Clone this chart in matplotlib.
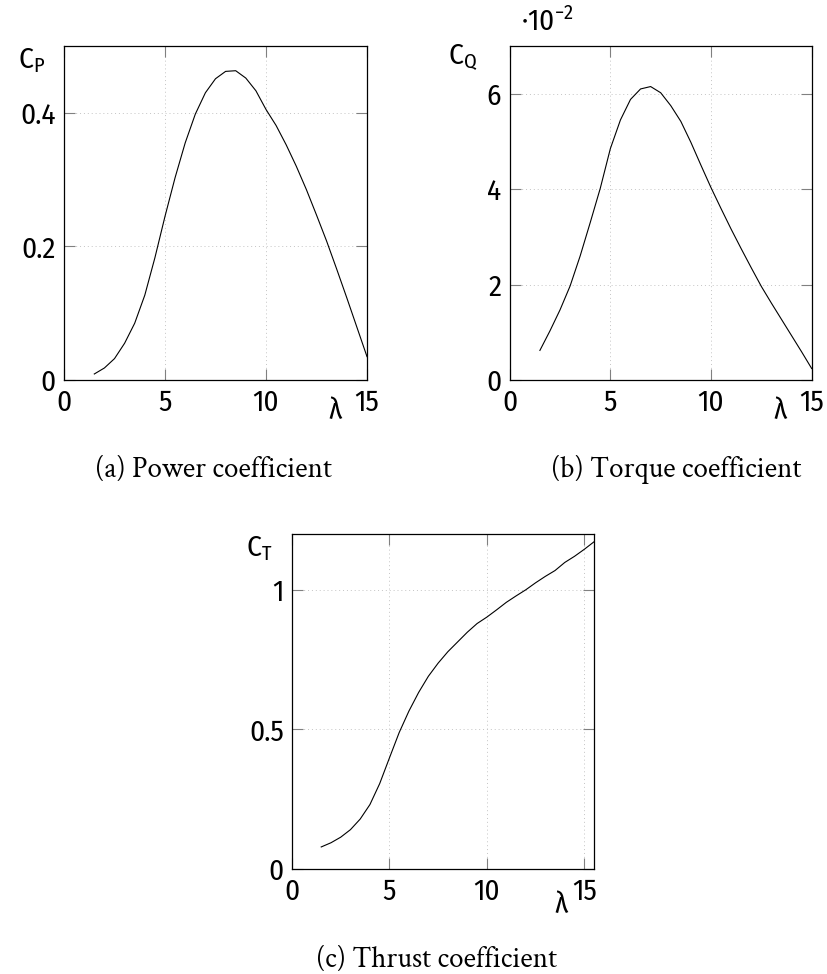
import matplotlib
matplotlib.use("Agg")
import matplotlib.pyplot as plt
from matplotlib import font_manager

# ---------------- data ----------------
lam_pq = [1.5, 2.0, 2.5, 3.0, 3.5, 4.0, 4.5, 5.0, 5.5, 6.0, 6.5, 7.0, 7.5, 8.0,
          8.5, 9.0, 9.5, 10.0, 10.5, 11.0, 11.5, 12.0, 12.5, 13.0, 13.5, 14.0,
          14.5, 15.0]
cp = [0.009, 0.018, 0.032, 0.055, 0.085, 0.127, 0.183, 0.245, 0.303, 0.355,
      0.398, 0.430, 0.451, 0.462, 0.463, 0.452, 0.433, 0.405, 0.381, 0.352,
      0.320, 0.285, 0.247, 0.208, 0.166, 0.123, 0.079, 0.035]
cq = [0.62, 1.03, 1.47, 1.97, 2.60, 3.30, 4.02, 4.85, 5.45, 5.88, 6.10, 6.15,
      6.02, 5.75, 5.42, 4.98, 4.50, 4.03, 3.59, 3.16, 2.75, 2.35, 1.96, 1.61,
      1.27, 0.93, 0.59, 0.24]
lam_t = [1.5, 2.0, 2.5, 3.0, 3.5, 4.0, 4.5, 5.0, 5.5, 6.0, 6.5, 7.0, 7.5, 8.0,
         8.5, 9.0, 9.5, 10.0, 10.5, 11.0, 11.5, 12.0, 12.5, 13.0, 13.5, 14.0,
         14.5, 15.0, 15.5]
ct = [0.078, 0.093, 0.113, 0.140, 0.178, 0.230, 0.305, 0.397, 0.488, 0.565,
      0.632, 0.690, 0.737, 0.778, 0.813, 0.848, 0.879, 0.902, 0.928, 0.955,
      0.978, 1.000, 1.025, 1.048, 1.069, 1.098, 1.120, 1.145, 1.172]

xticks_pq = [0, 5, 10, 15]
yticks_p = [0, 0.2, 0.4]
ytick_labels_p = ["0", "0.2", "0.4"]
yticks_q = [0, 2, 4, 6]
yticks_t = [0, 0.5, 1]
ytick_labels_t = ["0", "0.5", "1"]

captions = ["(a) Power coefficient", "(b) Torque coefficient",
            "(c) Thrust coefficient"]

# ---------------- style ----------------
names = {f.name for f in font_manager.fontManager.ttflist}


def first(cands, default):
    for c in cands:
        if c in names:
            return c
    return default


sans = first(["Fira Sans Condensed", "Roboto Condensed", "Open Sans Condensed",
              "PT Sans Narrow", "Liberation Sans Narrow"], "Liberation Sans")
serif = first(["Crimson Text", "Crimson Pro", "Gentium Book Plus",
               "Liberation Serif"], "DejaVu Serif")

plt.rcParams["font.family"] = [sans, "DejaVu Sans"]
plt.rcParams["font.weight"] = "normal"
plt.rcParams["mathtext.fontset"] = "custom"
plt.rcParams["mathtext.rm"] = sans
plt.rcParams["mathtext.it"] = sans
plt.rcParams["mathtext.sf"] = sans
plt.rcParams["axes.unicode_minus"] = True

TICK_FS = 21
CAP_FS = 21
W, H = 828, 974
fig = plt.figure(figsize=(W / 100, H / 100), dpi=100)


def make_ax(left, top, right, bottom):
    return fig.add_axes([left / W, 1 - bottom / H, (right - left) / W,
                         (bottom - top) / H])


def style(ax):
    for s in ax.spines.values():
        s.set_color("black")
        s.set_linewidth(0.9)
    ax.tick_params(direction="in", length=8, width=0.8, color="#808080",
                   top=True, right=True, labelsize=TICK_FS, pad=6)
    ax.grid(True, color="#c4c4c4", linestyle=(0, (1, 3)), linewidth=0.7)
    ax.set_axisbelow(True)


# (a)
axa = make_ax(64, 46, 367, 380)
axa.plot(lam_pq, cp, color="black", lw=0.8)
axa.set_xlim(0, 15)
axa.set_ylim(0, 0.5)
axa.set_xticks(xticks_pq)
axa.set_yticks(yticks_p)
axa.set_yticklabels(ytick_labels_p)
style(axa)
axa.text(-19 / 303, 1.0, r"$\mathrm{C}_\mathrm{P}$", transform=axa.transAxes,
         ha="right", va="top", fontsize=TICK_FS)
axa.text(0.893, -0.093, "λ", transform=axa.transAxes, ha="center",
         va="center", fontsize=TICK_FS)

# (b)
axb = make_ax(509.7, 46, 811.7, 380)
axb.plot(lam_pq, cq, color="black", lw=0.8)
axb.set_xlim(0, 15)
axb.set_ylim(0, 7)
axb.set_xticks(xticks_pq)
axb.set_yticks(yticks_q)
style(axb)
axb.text(-32.7 / 302, 1.01, r"$\mathrm{C}_\mathrm{Q}$", transform=axb.transAxes,
         ha="right", va="top", fontsize=TICK_FS)
axb.text(11.3 / 302, 1 + 9 / 334, r"$\cdot10^{-2}$", transform=axb.transAxes,
         ha="left", va="bottom", fontsize=TICK_FS)
axb.text(0.895, -0.093, "λ", transform=axb.transAxes, ha="center",
         va="center", fontsize=TICK_FS)

# (c)
axc = make_ax(292, 534, 594, 868.7)
axc.plot(lam_t, ct, color="black", lw=0.8)
axc.set_xlim(0, 15.5)
axc.set_ylim(0, 1.2)
axc.set_xticks(xticks_pq)
axc.set_yticks(yticks_t)
axc.set_yticklabels(ytick_labels_t)
style(axc)
axc.text(-20 / 302, 1.0, r"$\mathrm{C}_\mathrm{T}$", transform=axc.transAxes,
         ha="right", va="top", fontsize=TICK_FS)
axc.text(0.892, -0.108, "λ", transform=axc.transAxes, ha="center",
         va="center", fontsize=TICK_FS)

# captions
for (cx, cy), txt in zip([(214, 470), (676, 470), (436.7, 960)], captions):
    fig.text(cx / W, 1 - cy / H, txt, ha="center", va="center",
             fontsize=CAP_FS, fontweight="normal",
             family=[serif, "Liberation Serif", "DejaVu Serif"])

fig.savefig("out.png", dpi=100)
